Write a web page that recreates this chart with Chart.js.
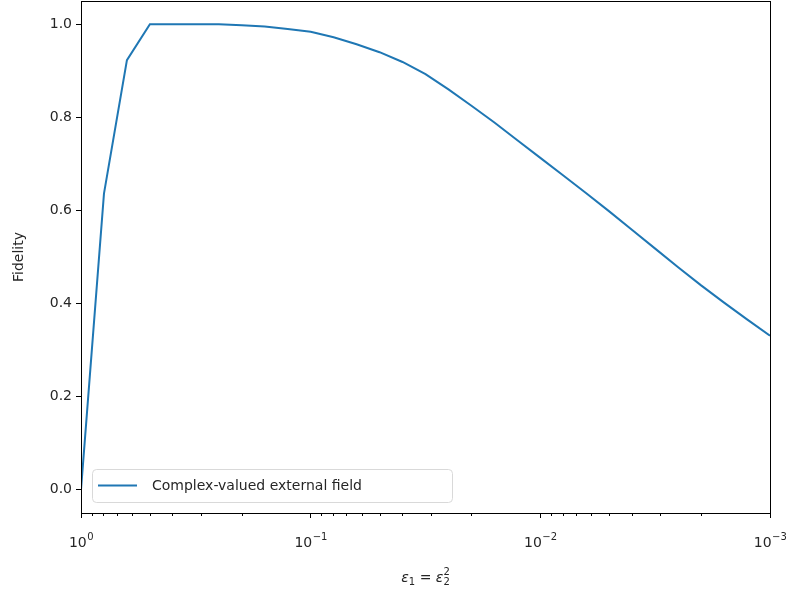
<!DOCTYPE html>
<html>
<head>
<meta charset="utf-8">
<script src="https://cdn.jsdelivr.net/npm/chart.js@4/dist/chart.umd.min.js"></script>
<style>
  html, body { margin: 0; padding: 0; background: #fff; }
  #wrap { width: 791px; height: 594px; }
</style>
</head>
<body>
<div id="wrap"><canvas id="myChart" width="791" height="594"></canvas></div>
<script>
// eps1 = eps2^2 values (log spaced, 10 per decade)
const epsValues = [1.0, 0.7943, 0.6310, 0.5012, 0.3981, 0.3162, 0.2512, 0.1995, 0.1585, 0.1259,
  0.1, 0.07943, 0.06310, 0.05012, 0.03981, 0.03162, 0.02512, 0.01995, 0.01585, 0.01259,
  0.01, 0.007943, 0.006310, 0.005012, 0.003981, 0.003162, 0.002512, 0.001995, 0.001585, 0.001259,
  0.001]
const fidelity = [0.0, 0.636, 0.923, 1.0, 1.0, 1.0, 1.0, 0.998, 0.995, 0.990,
  0.984, 0.972, 0.957, 0.940, 0.919, 0.893, 0.860, 0.825, 0.789, 0.751,
  0.713, 0.675, 0.637, 0.598, 0.558, 0.518, 0.478, 0.439, 0.402, 0.366,
  0.331]
const xTicks = [1, 0.1, 0.01, 0.001]
const xTickExp = ['0', '\u22121', '\u22122', '\u22123']
const yTicks = [0.0, 0.2, 0.4, 0.6, 0.8, 1.0]
const seriesLabel = 'Complex-valued external field'

const FONT = 'DejaVu Sans'
const TXT = '#262626'

const points = epsValues.map((e, i) => ({ x: e, y: fidelity[i] }))

// frame, minor ticks, tick labels with exponents, x title and legend box like matplotlib
const extras = {
    id: 'extras',
    afterDraw(chart) {
        const ctx = chart.ctx
        const a = chart.chartArea
        const xs = chart.scales.x
        ctx.save()
        ctx.strokeStyle = '#000'
        ctx.lineWidth = 1
        // minor ticks
        ctx.beginPath()
        for (const d of [0.1, 0.01, 0.001]) {
            for (let k = 2; k <= 9; k++) {
                const v = k * d
                if (v >= 1 || v <= 0.001) continue
                const px = Math.round(xs.getPixelForValue(v)) + 0.5
                ctx.moveTo(px, a.bottom)
                ctx.lineTo(px, a.bottom + 3)
            }
        }
        ctx.stroke()
        // frame
        ctx.strokeRect(Math.round(a.left) + 0.5, Math.round(a.top) + 0.5,
            Math.round(a.right - a.left), Math.round(a.bottom - a.top))

        // x tick labels 10^n
        ctx.fillStyle = TXT
        ctx.textBaseline = 'alphabetic'
        ctx.textAlign = 'left'
        xTicks.forEach((v, i) => {
            const px = xs.getPixelForValue(v)
            ctx.font = '14px "' + FONT + '"'
            const wb = ctx.measureText('10').width
            ctx.font = '10px "' + FONT + '"'
            const we = ctx.measureText(xTickExp[i]).width
            const x0 = px - (wb + we) / 2
            const base = a.bottom + 34
            ctx.font = '14px "' + FONT + '"'
            ctx.fillText('10', x0, base)
            ctx.font = '10px "' + FONT + '"'
            ctx.fillText(xTickExp[i], x0 + wb + 0.5, base - 7)
        })

        // x title: eps_1 = eps_2^2
        const cx = (a.left + a.right) / 2
        const by = 582
        const parts = [
            ['\u03B5', 'italic 14px', 0],
            ['1', '10px', 3],
            [' = ', '14px', 0],
            ['\u03B5', 'italic 14px', 0],
        ]
        let total = 0
        parts.forEach(p => { ctx.font = p[1] + ' "' + FONT + '"'; total += ctx.measureText(p[0]).width })
        ctx.font = '10px "' + FONT + '"'
        const w2 = ctx.measureText('2').width
        total += w2
        let tx = cx - total / 2
        parts.forEach(p => {
            ctx.font = p[1] + ' "' + FONT + '"'
            ctx.fillText(p[0], tx, by + p[2])
            tx += ctx.measureText(p[0]).width
        })
        ctx.font = '10px "' + FONT + '"'
        ctx.fillText('2', tx, by + 3)
        ctx.fillText('2', tx, by - 7)

        // legend
        const lx = a.left + 11, ly = a.bottom - 44, lw = 360, lh = 33
        ctx.beginPath()
        ctx.roundRect(lx + 0.5, ly + 0.5, lw, lh, 4)
        ctx.fillStyle = 'rgba(255,255,255,0.8)'
        ctx.fill()
        ctx.strokeStyle = '#d9d9d9'
        ctx.lineWidth = 1
        ctx.stroke()
        ctx.beginPath()
        ctx.strokeStyle = '#1f77b4'
        ctx.lineWidth = 2
        ctx.moveTo(lx + 6, ly + 16.5)
        ctx.lineTo(lx + 45, ly + 16.5)
        ctx.stroke()
        ctx.fillStyle = TXT
        ctx.font = '14px "' + FONT + '"'
        ctx.textBaseline = 'middle'
        ctx.fillText(chart.data.datasets[0].label, lx + 60, ly + 17)
        ctx.restore()
    }
}

const ctx = document.getElementById('myChart')
const myChart = new Chart(ctx, {
    type: 'line',
    data: {
        datasets: [{
            label: seriesLabel,
            data: points,
            borderColor: '#1f77b4',
            backgroundColor: '#1f77b4',
            borderWidth: 2,
            pointRadius: 0,
            tension: 0,
            fill: false,
        }],
    },
    options: {
        responsive: false,
        animation: false,
        layout: { padding: { left: 0, top: 1, right: 21, bottom: 0 } },
        plugins: {
            legend: { display: false },
            tooltip: { enabled: false },
        },
        scales: {
            x: {
                type: 'logarithmic',
                reverse: true,
                min: 0.001,
                max: 1,
                afterBuildTicks: s => { s.ticks = xTicks.map(v => ({ value: v })) },
                afterFit: s => { s.height = 81; s.paddingLeft = 0; s.paddingRight = 0 },
                ticks: {
                    autoSkip: false,
                    maxRotation: 0,
                    callback: () => '',
                },
                grid: { drawOnChartArea: false, drawTicks: true, tickLength: 5, color: '#000' },
                border: { color: '#000', width: 1 },
            },
            y: {
                min: -0.05,
                max: 1.05,
                afterBuildTicks: s => { s.ticks = yTicks.map(v => ({ value: v })) },
                afterFit: s => { s.width = 81; s.paddingTop = 0; s.paddingBottom = 0 },
                ticks: {
                    padding: 4,
                    color: TXT,
                    font: { family: FONT, size: 14 },
                    callback: v => v.toFixed(1),
                },
                grid: { drawOnChartArea: false, drawTicks: true, tickLength: 5, color: '#000' },
                border: { color: '#000', width: 1 },
                title: {
                    display: true,
                    text: 'Fidelity',
                    color: TXT,
                    font: { family: FONT, size: 14 },
                    padding: { top: 11, bottom: 0 },
                },
            },
        },
    },
    plugins: [extras],
})
</script>
</body>
</html>
